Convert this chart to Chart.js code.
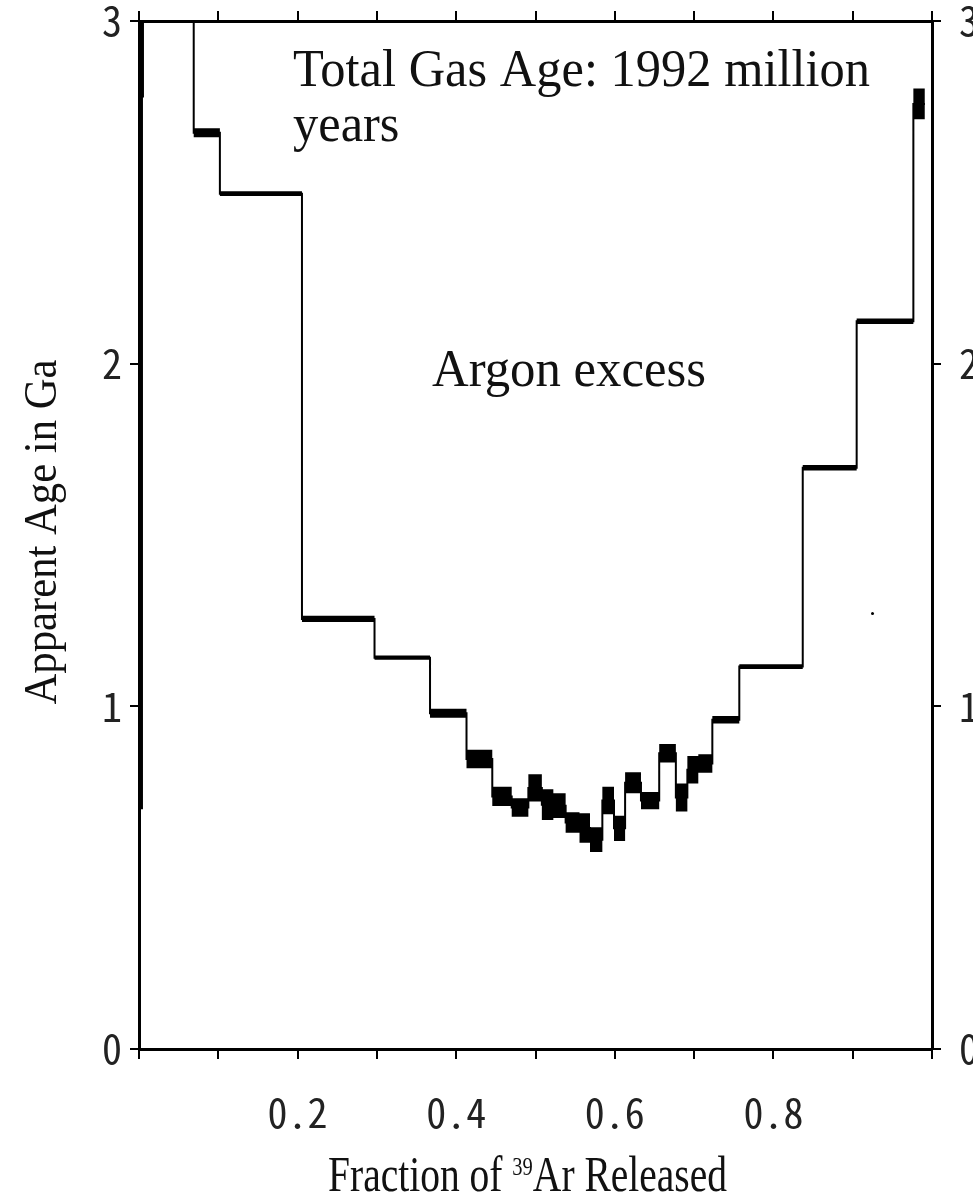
<!DOCTYPE html>
<html>
<head>
<meta charset="utf-8">
<script src="https://cdn.jsdelivr.net/npm/chart.js@4.4.1/dist/chart.umd.min.js"></script>
<style>
  html, body { margin: 0; padding: 0; background: #fff; }
  canvas { display: block; }
</style>
</head>
<body>
<canvas id="spectrum" width="973" height="1195"></canvas>
<script>
// step edges (fraction of 39Ar released), one more than the steps
const stepEdges = [0, 0.005, 0.069, 0.102, 0.2055, 0.297, 0.367, 0.413, 0.4455, 0.470,
    0.491, 0.508, 0.5225, 0.538, 0.5555, 0.5687, 0.5843, 0.599, 0.613, 0.633,
    0.656, 0.677, 0.6915, 0.7053, 0.723, 0.757, 0.837, 0.905, 0.9765, 0.991];
// apparent age of each step (Ga)
const stepAges = [2.78, 3.6, 2.674, 2.496, 1.255, 1.142, 0.980, 0.846, 0.737, 0.705,
    0.762, 0.713, 0.710, 0.661, 0.645, 0.611, 0.725, 0.644, 0.777, 0.725,
    0.863, 0.734, 0.815, 0.833, 0.961, 1.116, 1.696, 2.124, 2.758];
// half height of each error box (Ga)
const stepErrors = [2.08, 0.05, 0.013, 0.007, 0.009, 0.006, 0.013, 0.027, 0.028, 0.027,
    0.040, 0.045, 0.036, 0.030, 0.043, 0.036, 0.040, 0.037, 0.031, 0.025,
    0.027, 0.041, 0.040, 0.027, 0.011, 0.007, 0.008, 0.008, 0.045];
// stray speck in the plot
const strayPoint = [{ x: 0.925, y: 1.271 }];

const xTickLabels = ['0.2', '0.4', '0.6', '0.8'];
const yTickLabels = ['0', '1', '2', '3'];

// stepped series: value of step i held from edge i to edge i+1
function stepped(vals) {
    return stepEdges.map((e, i) => ({ x: e, y: vals[Math.min(i, vals.length - 1)] }));
}
const upper = stepped(stepAges.map((a, i) => a + stepErrors[i]));
const lower = stepped(stepAges.map((a, i) => a - stepErrors[i]));
const centre = stepped(stepAges);

const tickFont = { family: '"Noto Sans Mono CJK JP", "Liberation Mono", monospace', size: 40 };
const serif = '"Liberation Serif", "Times New Roman", serif';

// draw text squeezed to a given width
function fitText(ctx, str, left, baseline, width, size) {
    ctx.save();
    ctx.font = size + 'px ' + serif;
    const w = ctx.measureText(str).width;
    ctx.translate(left, baseline);
    ctx.scale(width / w, 1);
    ctx.textAlign = 'left';
    ctx.textBaseline = 'alphabetic';
    ctx.fillText(str, 0, 0);
    ctx.restore();
}

const labelsPlugin = {
    id: 'labels',
    afterDraw(chart) {
        const ctx = chart.ctx;
        ctx.save();
        ctx.fillStyle = '#111';
        fitText(ctx, 'Total Gas Age: 1992 million', 293, 86, 577, 53);
        // same squeeze as the first line
        ctx.font = '53px ' + serif;
        const sx = 577 / ctx.measureText('Total Gas Age: 1992 million').width;
        fitText(ctx, 'years', 293, 141, ctx.measureText('years').width * sx, 53);
        fitText(ctx, 'Argon excess', 432, 386, 274, 53);

        // y title
        ctx.save();
        ctx.translate(56, 532);
        ctx.rotate(-Math.PI / 2);
        ctx.font = '46px ' + serif;
        const t = 'Apparent Age in Ga';
        const tw = ctx.measureText(t).width;
        ctx.scale(345 / tw, 1);
        ctx.textAlign = 'center';
        ctx.fillText(t, 0, 0);
        ctx.restore();

        // x title with superscript
        ctx.save();
        const a = 'Fraction of ', sup = '39', b = 'Ar Released';
        ctx.font = '50px ' + serif;
        const wa = ctx.measureText(a).width, wb = ctx.measureText(b).width;
        ctx.font = '26px ' + serif;
        const ws = ctx.measureText(sup).width;
        const k = 399 / (wa + ws + wb);
        ctx.translate(328, 1191);
        ctx.scale(k, 1);
        ctx.font = '50px ' + serif;
        ctx.fillText(a, 0, 0);
        ctx.font = '26px ' + serif;
        ctx.fillText(sup, wa, -16);
        ctx.font = '50px ' + serif;
        ctx.fillText(b, wa + ws, 0);
        ctx.restore();
        ctx.restore();
    }
};

const axisGrid = { display: true, drawOnChartArea: false, drawTicks: true, tickLength: 10, color: '#000', lineWidth: 2 };
const axisBorder = { display: true, color: '#000', width: 3 };

function fixWidth(w) {
    return s => { s.width = w; s.paddingTop = 0; s.paddingBottom = 0; };
}
function fixHeight(h) {
    return s => { s.height = h; s.paddingLeft = 0; s.paddingRight = 0; };
}

const ctx = document.getElementById('spectrum').getContext('2d');
const chart = new Chart(ctx, {
    type: 'line',
    data: {
        datasets: [
            { data: upper, stepped: true, borderWidth: 0, pointRadius: 0, fill: false, borderColor: 'rgba(0,0,0,0)' },
            { data: lower, stepped: true, borderWidth: 0, pointRadius: 0, fill: '-1', backgroundColor: '#000', borderColor: 'rgba(0,0,0,0)' },
            { data: centre, stepped: true, borderWidth: 2, pointRadius: 0, fill: false, borderColor: '#000' },
            { type: 'scatter', data: strayPoint, pointRadius: 1.5, backgroundColor: '#000', borderWidth: 0 }
        ]
    },
    options: {
        responsive: false,
        animation: false,
        devicePixelRatio: 1,
        layout: { padding: 0, autoPadding: false },
        plugins: { legend: { display: false }, tooltip: { enabled: false }, title: { display: false } },
        scales: {
            x: {
                type: 'linear', position: 'bottom', min: 0, max: 1,
                ticks: {
                    stepSize: 0.1, font: tickFont, color: '#222', padding: 30, maxRotation: 0, autoSkip: false,
                    callback: v => xTickLabels.includes(v.toFixed(1)) ? v.toFixed(1) : ''
                },
                grid: axisGrid, border: axisBorder,
                afterFit: fixHeight(146)
            },
            x2: {
                type: 'linear', position: 'top', min: 0, max: 1,
                ticks: { stepSize: 0.1, display: false },
                grid: axisGrid, border: axisBorder,
                afterFit: fixHeight(21)
            },
            y: {
                type: 'linear', position: 'left', min: 0, max: 3,
                ticks: {
                    stepSize: 1, font: tickFont, color: '#222', padding: 8,
                    callback: v => yTickLabels.includes(String(v)) ? String(v) : ''
                },
                grid: { ...axisGrid, tickLength: 9 }, border: axisBorder,
                afterFit: fixWidth(139)
            },
            y2: {
                type: 'linear', position: 'right', min: 0, max: 3,
                ticks: {
                    stepSize: 1, font: tickFont, color: '#222', padding: 18,
                    callback: v => yTickLabels.includes(String(v)) ? String(v) : ''
                },
                grid: { ...axisGrid, tickLength: 9 }, border: axisBorder,
                afterFit: fixWidth(41)
            }
        }
    },
    plugins: [labelsPlugin]
});
</script>
</body>
</html>
